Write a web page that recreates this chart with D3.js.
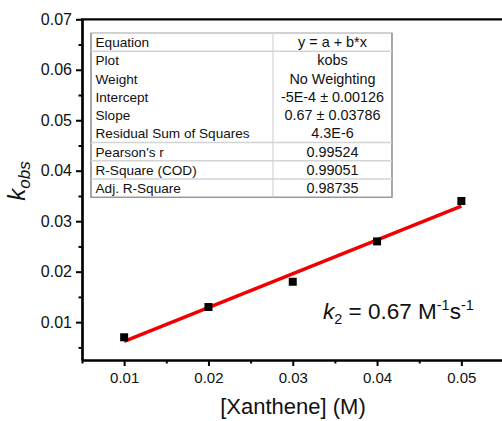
<!DOCTYPE html>
<html>
<head>
<meta charset="utf-8">
<script src="https://cdn.jsdelivr.net/npm/d3@7"></script>
<style>
  html, body { margin: 0; padding: 0; background: #fff; }
  svg { display: block; font-family: "Liberation Sans", Arial, sans-serif; }
</style>
</head>
<body>
<svg id="chart" width="502" height="421"></svg>
<script>
// Measured pseudo-first-order rate constants vs. xanthene concentration
const concentrations = [0.01, 0.02, 0.03, 0.04, 0.05];
const kobsValues = [0.007, 0.013, 0.018, 0.026, 0.034];

// Linear fit results
const fitIntercept = -0.0005;
const fitSlope = 0.67;

const xTicks = [0.01, 0.02, 0.03, 0.04, 0.05];
const yTicks = [0.01, 0.02, 0.03, 0.04, 0.05, 0.06, 0.07];

const tableLabels = ["Equation", "Plot", "Weight", "Intercept", "Slope",
  "Residual Sum of Squares", "Pearson's r", "R-Square (COD)", "Adj. R-Square"];
const tableValues = ["y = a + b*x", "kobs", "No Weighting", "-5E-4 \u00b1 0.00126",
  "0.67 \u00b1 0.03786", "4.3E-6", "0.99524", "0.99051", "0.98735"];
// rows followed by a separator line
const tableRuleAfter = [0, 5, 6, 7];

const svg = d3.select("#chart");

const plotLeft = 82, plotRight = 503.5, plotTop = 19.3, plotBottom = 360;
const x = d3.scaleLinear().domain([0.005, 0.055]).range([plotLeft, plotRight]);
const y = d3.scaleLinear().domain([0.0025, 0.07]).range([plotBottom, plotTop]);

// Minor ticks every 0.005
const xMinor = d3.range(0.005, 0.0551, 0.005).map(v => +v.toFixed(3)).filter(v => !xTicks.includes(v));
const yMinor = d3.range(0.005, 0.0701, 0.005).map(v => +v.toFixed(3)).filter(v => !yTicks.includes(v));

// Fit line
const fitLine = d3.line().x(d => x(d)).y(d => y(fitIntercept + fitSlope * d));
svg.append("path")
  .datum([concentrations[0], concentrations[concentrations.length - 1]])
  .attr("d", fitLine)
  .attr("fill", "none")
  .attr("stroke", "#f00000")
  .attr("stroke-width", 3.4);

// Data points
const ms = 8;
svg.append("g").selectAll("rect")
  .data(concentrations.map((c, i) => [c, kobsValues[i]]))
  .join("rect")
  .attr("x", d => x(d[0]) - ms / 2)
  .attr("y", d => y(d[1]) - ms / 2)
  .attr("width", ms)
  .attr("height", ms)
  .attr("fill", "#000");

// Axes
const xAxis = svg.append("g").attr("transform", `translate(0,${plotBottom})`)
  .call(d3.axisBottom(x).tickValues(xTicks).tickFormat(d3.format(".2f")).tickSize(6).tickSizeOuter(0));
const xAxisMinor = svg.append("g").attr("transform", `translate(0,${plotBottom})`)
  .call(d3.axisBottom(x).tickValues(xMinor).tickFormat("").tickSize(3.5).tickSizeOuter(0));
const yAxis = svg.append("g").attr("transform", `translate(${plotLeft},0)`)
  .call(d3.axisLeft(y).tickValues(yTicks).tickFormat(d3.format(".2f")).tickSize(6).tickSizeOuter(0));
const yAxisMinor = svg.append("g").attr("transform", `translate(${plotLeft},0)`)
  .call(d3.axisLeft(y).tickValues(yMinor).tickFormat("").tickSize(3.5).tickSizeOuter(0));

[xAxis, xAxisMinor, yAxis, yAxisMinor].forEach(g => {
  g.select(".domain").attr("stroke", "#000").attr("stroke-width", 2.2);
  g.selectAll(".tick line").attr("stroke", "#000").attr("stroke-width", 2);
  g.selectAll(".tick text").attr("fill", "#111")
    .style("font-family", "'Liberation Sans', Arial, sans-serif");
});
xAxis.selectAll(".tick text").attr("dy", "0.9em").style("font-size", "15px");
yAxis.selectAll(".tick text").attr("x", -10).style("font-size", "16px");

// Top frame line
svg.append("line")
  .attr("x1", plotLeft - 1).attr("x2", plotRight)
  .attr("y1", plotTop).attr("y2", plotTop)
  .attr("stroke", "#000").attr("stroke-width", 2.2);

// Axis titles
svg.append("text")
  .attr("x", 293).attr("y", 414)
  .attr("text-anchor", "middle")
  .style("font-size", "22px")
  .attr("fill", "#111")
  .text("[Xanthene] (M)");

const yTitle = svg.append("text")
  .attr("transform", "translate(25,181) rotate(-90)")
  .attr("text-anchor", "middle")
  .attr("fill", "#111");
yTitle.append("tspan").style("font-size", "24px").style("font-style", "italic").text("k");
yTitle.append("tspan").style("font-size", "17px").style("font-style", "italic").attr("dy", 5).text("obs");

// Rate constant annotation
const ann = svg.append("text")
  .attr("x", 323).attr("y", 319)
  .attr("fill", "#111")
  .style("font-size", "22.5px");
ann.append("tspan").style("font-style", "italic").text("k");
ann.append("tspan").style("font-size", "14.5px").attr("dy", 5).text("2");
ann.append("tspan").attr("dy", -5).text(" = 0.67 M");
ann.append("tspan").style("font-size", "14.5px").attr("dy", -9).text("-1");
ann.append("tspan").attr("dy", 9).text("s");
ann.append("tspan").style("font-size", "14.5px").attr("dy", -9).text("-1");

// Fit summary table
const tX0 = 91, tX1 = 392, tMid = 273, tY0 = 33, rowH = 18.25;
const tH = rowH * tableLabels.length;
const tbl = svg.append("g");
tbl.append("rect")
  .attr("x", tX0).attr("y", tY0)
  .attr("width", tX1 - tX0).attr("height", tH)
  .attr("fill", "#fff").attr("stroke", "#b4b4b4").attr("stroke-width", 1.2);
tbl.append("path")
  .attr("d", `M${tX0},${tY0} V${tY0 + tH} H${tX1} V${tY0}`)
  .attr("fill", "none").attr("stroke", "#8a8a8a").attr("stroke-width", 1.2);
tbl.append("line")
  .attr("x1", tMid).attr("x2", tMid)
  .attr("y1", tY0).attr("y2", tY0 + tH)
  .attr("stroke", "#d4d4d4").attr("stroke-width", 1.2);
tbl.selectAll("line.rule")
  .data(tableRuleAfter)
  .join("line")
  .attr("class", "rule")
  .attr("x1", tX0).attr("x2", tX1)
  .attr("y1", i => tY0 + rowH * (i + 1))
  .attr("y2", i => tY0 + rowH * (i + 1))
  .attr("stroke", "#d4d4d4").attr("stroke-width", 1.6);
tbl.selectAll("text.lab")
  .data(tableLabels)
  .join("text")
  .attr("class", "lab")
  .attr("x", tX0 + 4.5)
  .attr("y", (d, i) => tY0 + rowH * i + 14)
  .style("font-size", "13.6px")
  .attr("fill", "#111")
  .text(d => d);
tbl.selectAll("text.val")
  .data(tableValues)
  .join("text")
  .attr("class", "val")
  .attr("x", (tMid + tX1) / 2)
  .attr("y", (d, i) => tY0 + rowH * i + 14)
  .attr("text-anchor", "middle")
  .style("font-size", "14.4px")
  .attr("fill", "#111")
  .text(d => d);
</script>
</body>
</html>
